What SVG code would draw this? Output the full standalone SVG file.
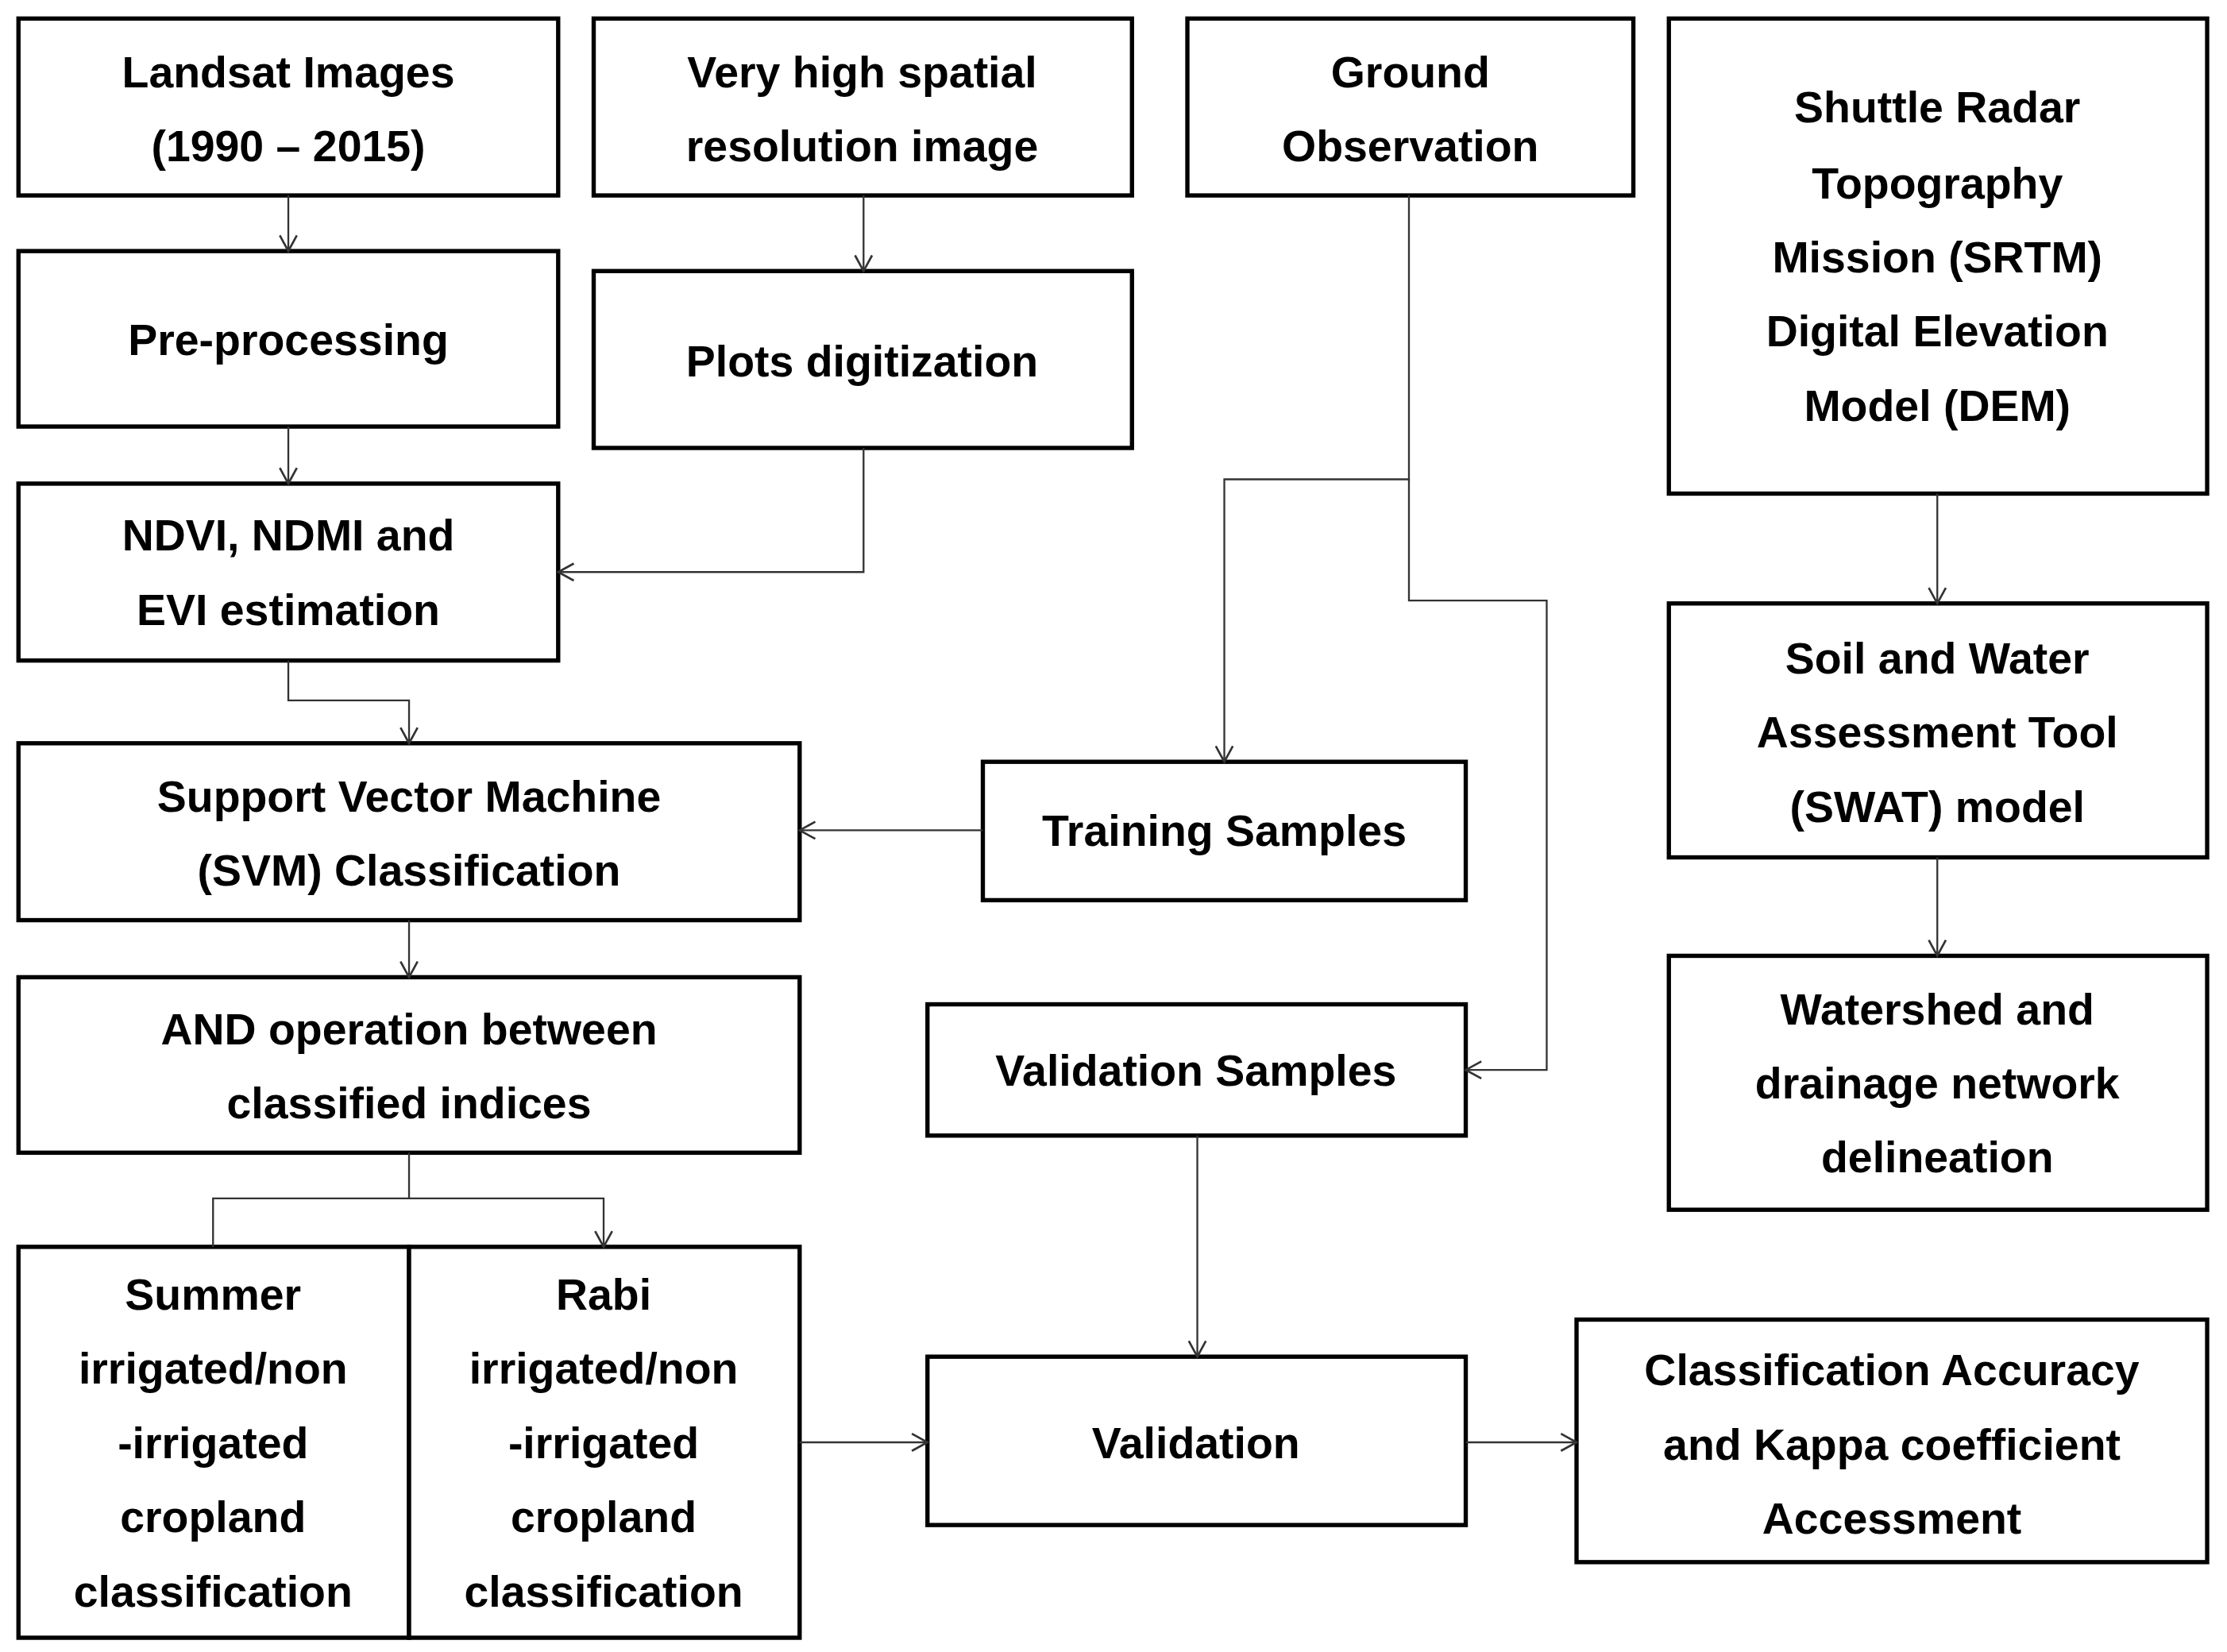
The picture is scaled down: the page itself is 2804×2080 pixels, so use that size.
<svg xmlns="http://www.w3.org/2000/svg" width="2804" height="2080" viewBox="0 0 2804 2080">
<defs>
<style>
.b{fill:#fff;stroke:#000;stroke-width:3}
.t{font-family:"Liberation Sans",Arial,sans-serif;font-weight:bold;font-size:31px;text-anchor:middle;fill:#000}
.c{fill:none;stroke:#333;stroke-width:1.3;marker-end:url(#a)}
.l{fill:none;stroke:#333;stroke-width:1.3}
</style>
<marker id="a" markerWidth="14" markerHeight="14" refX="12" refY="7" orient="auto" markerUnits="userSpaceOnUse">
<path d="M1,1 L12,7 L1,13" fill="none" stroke="#333" stroke-width="1.5"/>
</marker>
</defs>
<rect width="2804" height="2080" fill="#fff"/>
<g transform="scale(1.7883,1.7962)">
<g id="n1"><rect class="b" x="13" y="13" width="380" height="124"/><text class="t" x="203" y="61">Landsat Images</text><text class="t" x="203" y="113">(1990 – 2015)</text></g>
<g id="n2"><rect class="b" x="418" y="13" width="379" height="124"/><text class="t" x="607" y="61">Very high spatial</text><text class="t" x="607" y="113">resolution image</text></g>
<g id="n3"><rect class="b" x="836" y="13" width="314" height="124"/><text class="t" x="993" y="61">Ground</text><text class="t" x="993" y="113">Observation</text></g>
<g id="n4"><rect class="b" x="1175" y="13" width="379" height="333"/><text class="t" x="1364" y="86">Shuttle Radar</text><text class="t" x="1364" y="139">Topography</text><text class="t" x="1364" y="191">Mission (SRTM)</text><text class="t" x="1364" y="243">Digital Elevation</text><text class="t" x="1364" y="295">Model (DEM)</text></g>
<g id="n5"><rect class="b" x="13" y="176" width="380" height="123"/><text class="t" x="203" y="249">Pre-processing</text></g>
<g id="n6"><rect class="b" x="418" y="190" width="379" height="124"/><text class="t" x="607" y="264">Plots digitization</text></g>
<g id="n7"><rect class="b" x="13" y="339" width="380" height="124"/><text class="t" x="203" y="386">NDVI, NDMI and</text><text class="t" x="203" y="438">EVI estimation</text></g>
<g id="n8"><rect class="b" x="13" y="521" width="550" height="124"/><text class="t" x="288" y="569">Support Vector Machine</text><text class="t" x="288" y="621">(SVM) Classification</text></g>
<g id="n9"><rect class="b" x="692" y="534" width="340" height="97"/><text class="t" x="862" y="593">Training Samples</text></g>
<g id="n10"><rect class="b" x="13" y="685" width="550" height="123"/><text class="t" x="288" y="732">AND operation between</text><text class="t" x="288" y="784">classified indices</text></g>
<g id="n11"><rect class="b" x="653" y="704" width="379" height="92"/><text class="t" x="842" y="761">Validation Samples</text></g>
<g id="n12"><rect class="b" x="1175" y="423" width="379" height="178"/><text class="t" x="1364" y="472">Soil and Water</text><text class="t" x="1364" y="524">Assessment Tool</text><text class="t" x="1364" y="576">(SWAT) model</text></g>
<g id="n13"><rect class="b" x="1175" y="670" width="379" height="178"/><text class="t" x="1364" y="718">Watershed and</text><text class="t" x="1364" y="770">drainage network</text><text class="t" x="1364" y="822">delineation</text></g>
<g id="n14"><rect class="b" x="13" y="874" width="275" height="274"/><text class="t" x="150" y="918">Summer</text><text class="t" x="150" y="970">irrigated/non</text><text class="t" x="150" y="1022">-irrigated</text><text class="t" x="150" y="1074">cropland</text><text class="t" x="150" y="1126">classification</text></g>
<g id="n15"><rect class="b" x="288" y="874" width="275" height="274"/><text class="t" x="425" y="918">Rabi</text><text class="t" x="425" y="970">irrigated/non</text><text class="t" x="425" y="1022">-irrigated</text><text class="t" x="425" y="1074">cropland</text><text class="t" x="425" y="1126">classification</text></g>
<g id="n16"><rect class="b" x="653" y="951" width="379" height="118"/><text class="t" x="842" y="1022">Validation</text></g>
<g id="n17"><rect class="b" x="1110" y="925" width="444" height="170"/><text class="t" x="1332" y="971">Classification Accuracy</text><text class="t" x="1332" y="1023">and Kappa coefficient</text><text class="t" x="1332" y="1075">Accessment</text></g>
<g id="connectors">
<path class="c" d="M203,137 V176"/>
<path class="c" d="M608,137 V190"/>
<path class="c" d="M203,299 V339"/>
<path class="c" d="M608,314 V401 H393"/>
<path class="c" d="M203,463 V491 H288 V521"/>
<path class="c" d="M992,137 V336 H862 V534"/>
<path class="c" d="M992,336 V421 H1089 V750 H1032"/>
<path class="c" d="M692,582 H563"/>
<path class="c" d="M288,645 V685"/>
<path class="l" d="M288,808 V840"/>
<path class="c" d="M150,874 V840 H425 V874"/>
<path class="c" d="M1364,346 V423"/>
<path class="c" d="M1364,601 V670"/>
<path class="c" d="M843,796 V951"/>
<path class="c" d="M563,1011 H653"/>
<path class="c" d="M1032,1011 H1110"/>
</g>
</g>
</svg>
